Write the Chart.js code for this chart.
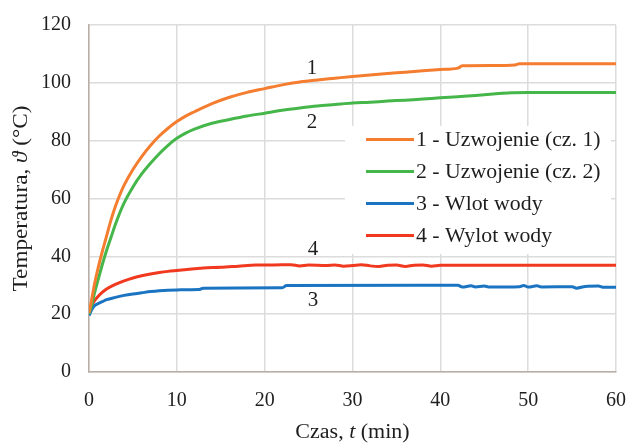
<!DOCTYPE html>
<html>
<head>
<meta charset="utf-8">
<script src="https://cdn.jsdelivr.net/npm/chart.js@4"></script>
<style>
  html, body { margin: 0; padding: 0; background: #fff; }
  #wrap { width: 629px; height: 446px; }
</style>
</head>
<body>
<div id="wrap"><canvas id="tempChart" width="629" height="446"></canvas></div>
<script>
// series labels
var seriesLabels = ['1 - Uzwojenie (cz. 1)', '2 - Uzwojenie (cz. 2)', '3 - Wlot wody', '4 - Wylot wody'];

// 1 - winding part 1
var winding1Time = [0, 0.3, 0.6, 1, 1.5, 2, 2.5, 3, 3.5, 4, 5, 6, 7, 8, 9, 10, 11, 12, 14, 16, 18, 20, 22, 24, 26, 28, 30, 32, 34, 36, 38, 40, 42, 42.5, 46, 48.5, 49, 60];
var winding1Temp = [20.5, 25, 30, 35.5, 41.5, 47, 52.5, 57.2, 61.2, 64.6, 70, 74.5, 78.3, 81.6, 84.3, 86.6, 88.5, 90, 92.8, 95, 96.7, 98, 99.3, 100.3, 101, 101.6, 102.2, 102.7, 103.2, 103.7, 104.2, 104.6, 105.1, 105.9, 106, 106.2, 106.6, 106.6];

// 2 - winding part 2
var winding2Time = [0, 0.3, 0.6, 1, 1.5, 2, 2.5, 3, 3.5, 4, 5, 6, 7, 8, 9, 10, 11, 12, 14, 16, 18, 20, 22, 24, 26, 28, 30, 32, 34, 36, 38, 40, 42, 44, 46, 48, 50, 60];
var winding2Temp = [20, 23, 27, 31.5, 37, 42, 46.5, 51, 55, 58.5, 64, 68.5, 72.2, 75.5, 78.4, 80.8, 82.6, 84, 86, 87.3, 88.5, 89.5, 90.5, 91.3, 92, 92.5, 93, 93.3, 93.7, 94, 94.4, 94.8, 95.2, 95.6, 96.1, 96.6, 96.7, 96.7];

// 3 - water inlet
var inletTime = [0, 0.3, 0.6, 1, 1.5, 2, 3, 4, 5, 6, 7, 8, 9, 10, 12.5, 13, 22, 22.5, 42, 42.5, 43.5, 44, 45, 45.5, 49, 49.5, 50, 51, 51.5, 55, 55.5, 56.5, 58, 58.5, 60];
var inletTemp = [19.5, 21.5, 22.8, 23.6, 24.3, 25, 25.8, 26.5, 27, 27.4, 27.8, 28.1, 28.3, 28.4, 28.5, 29, 29.1, 29.9, 30, 29.4, 29.8, 29.4, 29.7, 29.4, 29.5, 29.9, 29.4, 29.8, 29.4, 29.5, 29.0, 29.6, 29.7, 29.3, 29.3];

// 4 - water outlet
var outletTime = [0, 0.3, 0.6, 1, 1.5, 2, 3, 4, 5, 6, 7, 8, 9, 10, 12, 13, 15, 17, 19, 21, 23, 24, 25, 27, 28, 29, 30, 31, 32, 33, 34, 35, 36, 37, 38, 39, 40, 60];
var outletTemp = [20.5, 23, 24.5, 26, 27.5, 28.7, 30.3, 31.5, 32.5, 33.3, 33.9, 34.4, 34.8, 35.1, 35.7, 36, 36.2, 36.6, 37, 37, 37.1, 36.7, 37, 36.8, 37, 36.6, 36.8, 37.1, 36.7, 36.5, 36.9, 37, 36.5, 36.9, 37, 36.6, 36.9, 36.9];

// curve numbers placed next to the lines (data units)
var curveTags = ['1', '2', '3', '4'];
var curveTagTime = [25.4, 25.4, 25.5, 25.5];
var curveTagTemp = [105.1, 86.4, 24.9, 42.2];

var colors = ['#f47d30', '#45b649', '#1a74c2', '#f0391f'];
var serif = '"Liberation Serif", "Times New Roman", serif';

function toPoints(xs, ys) {
    return xs.map(function(x, i) { return { x: x, y: ys[i] }; });
}

function stretchText(ctx, text, x, y, sx) {
    ctx.save();
    ctx.translate(x, y);
    ctx.scale(sx, 1);
    ctx.fillText(text, 0, 0);
    ctx.restore();
}

// legend box, curve numbers and axis titles (with italic symbols)
var overlayPlugin = {
    id: 'overlay',
    afterDatasetsDraw: function(chart) {
        var ctx = chart.ctx;
        var area = chart.chartArea;
        var xs = chart.scales.x, ys = chart.scales.y;

        // legend
        ctx.save();
        ctx.fillStyle = '#ffffff';
        ctx.fillRect(area.right - 271, 126, 266, 128);
        ctx.font = '20px ' + serif;
        ctx.fillStyle = '#1e1e1e';
        ctx.textBaseline = 'middle';
        ctx.textAlign = 'left';
        for (var i = 0; i < seriesLabels.length; i++) {
            var ly = 139.5 + i * 32;
            ctx.strokeStyle = colors[i];
            ctx.lineWidth = 3;
            ctx.beginPath();
            ctx.moveTo(area.right - 250, ly);
            ctx.lineTo(area.right - 202, ly);
            ctx.stroke();
            stretchText(ctx, seriesLabels[i], area.right - 200, ly + 1, 1.09);
        }
        ctx.restore();

        // curve numbers
        ctx.save();
        ctx.font = '21px ' + serif;
        ctx.fillStyle = '#1e1e1e';
        ctx.textAlign = 'center';
        ctx.textBaseline = 'middle';
        for (var j = 0; j < curveTags.length; j++) {
            ctx.fillText(curveTags[j], xs.getPixelForValue(curveTagTime[j]), ys.getPixelForValue(curveTagTemp[j]));
        }
        ctx.restore();
    },
    afterDraw: function(chart) {
        var ctx = chart.ctx;
        var area = chart.chartArea;
        ctx.save();
        ctx.fillStyle = '#1e1e1e';
        ctx.textBaseline = 'middle';
        ctx.textAlign = 'left';

        // x title: "Czas, t (min)"
        var partsX = [['Czas, ', ''], ['t', 'italic '], [' (min)', '']];
        drawParts(ctx, partsX, (area.left + area.right) / 2, 432, 0, 1.1);

        // y title: "Temperatura, ϑ (°C)"
        var partsY = [['Temperatura, ', ''], ['\u03D1', 'italic '], [' (\u00B0C)', '']];
        drawParts(ctx, partsY, 21, (area.top + area.bottom) / 2, -Math.PI / 2, 1.16);
        ctx.restore();
    }
};

function drawParts(ctx, parts, cx, cy, rot, sx) {
    var total = 0;
    parts.forEach(function(p) {
        ctx.font = p[1] + '20px ' + serif;
        total += ctx.measureText(p[0]).width * sx;
    });
    ctx.save();
    ctx.translate(cx, cy);
    ctx.rotate(rot);
    var x = -total / 2;
    parts.forEach(function(p) {
        ctx.font = p[1] + '20px ' + serif;
        stretchText(ctx, p[0], x, 1, sx);
        x += ctx.measureText(p[0]).width * sx;
    });
    ctx.restore();
}

var ctx = document.getElementById('tempChart').getContext('2d');
new Chart(ctx, {
    type: 'line',
    data: {
        datasets: [
            { label: seriesLabels[0], data: toPoints(winding1Time, winding1Temp), borderColor: colors[0] },
            { label: seriesLabels[1], data: toPoints(winding2Time, winding2Temp), borderColor: colors[1] },
            { label: seriesLabels[2], data: toPoints(inletTime, inletTemp), borderColor: colors[2] },
            { label: seriesLabels[3], data: toPoints(outletTime, outletTemp), borderColor: colors[3] }
        ]
    },
    options: {
        responsive: false,
        animation: false,
        layout: { padding: { top: 25, right: 13, left: 0, bottom: 0 } },
        elements: {
            point: { radius: 0 },
            line: { borderWidth: 3, cubicInterpolationMode: 'monotone', fill: false }
        },
        plugins: {
            legend: { display: false },
            tooltip: { enabled: false }
        },
        scales: {
            x: {
                type: 'linear',
                min: 0,
                max: 60,
                ticks: { stepSize: 10, padding: 17, color: '#1e1e1e', font: { family: serif, size: 20 } },
                grid: { color: '#dcdcdc', lineWidth: 1.5, drawTicks: false },
                border: { color: '#b9aea6', width: 1.5 },
                afterFit: function(scale) {
                    scale.height = 74;
                    scale.paddingLeft = 0;
                    scale.paddingRight = 0;
                }
            },
            y: {
                min: 0,
                max: 120,
                ticks: { stepSize: 20, padding: 18, color: '#1e1e1e', font: { family: serif, size: 20 } },
                grid: { color: '#dcdcdc', lineWidth: 1.5, drawTicks: false },
                border: { color: '#b9aea6', width: 1.5 },
                afterFit: function(scale) {
                    scale.width = 89;
                    scale.paddingTop = 0;
                    scale.paddingBottom = 0;
                }
            }
        }
    },
    plugins: [overlayPlugin]
});
</script>
</body>
</html>
